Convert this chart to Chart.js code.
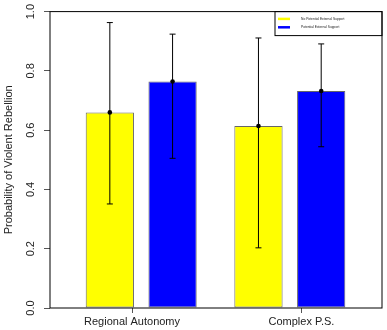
<!DOCTYPE html>
<html>
<head>
<meta charset="utf-8">
<script src="https://cdn.jsdelivr.net/npm/chart.js@4.4.0/dist/chart.umd.min.js"></script>
<style>
  html, body { margin: 0; padding: 0; background: #fff; }
</style>
</head>
<body>
<canvas id="rebellionChart" width="387" height="330"></canvas>
<script>
const categories = ["Regional Autonomy", "Complex P.S."];
const seriesLabels = ["No Potential External Support", "Potential External Support"];
const noSupportMean = [0.66, 0.614];
const noSupportLower = [0.351, 0.203];
const noSupportUpper = [0.963, 0.911];
const supportMean = [0.764, 0.732];
const supportLower = [0.505, 0.544];
const supportUpper = [0.924, 0.891];
const yTickValues = [0, 0.2, 0.4, 0.6, 0.8, 1.0];

// layout in bar-width units (like R barplot)
const xRange = 6.88;
const firstGroupStart = 0.74;
const groupStep = 3.08;
const barStep = 1.3;
const categoryTickAt = [1.7, 5.21];

const FONT = "'Liberation Sans', Arial, sans-serif";

function barCenters(seriesIndex) {
  return categories.map((c, g) => firstGroupStart + g * groupStep + seriesIndex * barStep + 0.5);
}

function toPoints(seriesIndex, values) {
  const xs = barCenters(seriesIndex);
  return values.map((v, i) => ({ x: xs[i], y: v }));
}

const errorRanges = [
  { lower: noSupportLower, upper: noSupportUpper, mean: noSupportMean },
  { lower: supportLower, upper: supportUpper, mean: supportMean },
];

// error bars, points, frame and legend box
const extrasPlugin = {
  id: "extras",
  afterDatasetsDraw(chart) {
    const ctx = chart.ctx;
    const y = chart.scales.y;
    ctx.save();
    ctx.strokeStyle = "#000";
    ctx.fillStyle = "#000";
    ctx.lineWidth = 1;
    errorRanges.forEach((r, i) => {
      const meta = chart.getDatasetMeta(i);
      meta.data.forEach((bar, j) => {
        const x = bar.x;
        const yLo = y.getPixelForValue(r.lower[j]);
        const yHi = y.getPixelForValue(r.upper[j]);
        ctx.beginPath();
        ctx.moveTo(x, yLo);
        ctx.lineTo(x, yHi);
        ctx.moveTo(x - 3, yLo);
        ctx.lineTo(x + 3, yLo);
        ctx.moveTo(x - 3, yHi);
        ctx.lineTo(x + 3, yHi);
        ctx.stroke();
        ctx.beginPath();
        ctx.arc(x, y.getPixelForValue(r.mean[j]), 2.3, 0, Math.PI * 2);
        ctx.fill();
      });
    });
    ctx.restore();
  },
  afterDraw(chart) {
    const ctx = chart.ctx;
    const area = chart.chartArea;
    ctx.save();
    ctx.strokeStyle = "#000";
    ctx.lineWidth = 1;
    ctx.strokeRect(area.left, area.top, area.right - area.left, area.bottom - area.top);

    // legend
    const w = 107, h = 24;
    const left = area.right - w, top = area.top;
    ctx.strokeRect(left, top, w, h);
    chart.data.datasets.forEach((ds, i) => {
      const ly = top + 7.3 + i * 8.4;
      ctx.strokeStyle = ds.backgroundColor;
      ctx.lineWidth = 2.5;
      ctx.beginPath();
      ctx.moveTo(left + 3, ly);
      ctx.lineTo(left + 15, ly);
      ctx.stroke();
      ctx.fillStyle = "#222";
      ctx.font = "3.3px " + FONT;
      ctx.textBaseline = "middle";
      ctx.fillText(ds.label, left + 26, ly);
    });
    ctx.restore();
  },
};

const chart = new Chart(document.getElementById("rebellionChart"), {
  type: "bar",
  data: {
    datasets: [
      {
        label: seriesLabels[0],
        data: toPoints(0, noSupportMean),
        backgroundColor: "#ffff00",
      },
      {
        label: seriesLabels[1],
        data: toPoints(1, supportMean),
        backgroundColor: "#0000ff",
      },
    ],
  },
  options: {
    responsive: false,
    animation: false,
    devicePixelRatio: 1,
    layout: { padding: { top: 11, right: 5, left: 0, bottom: 0 } },
    datasets: {
      bar: {
        grouped: false,
        categoryPercentage: 1,
        barPercentage: 1 / barStep,
        borderColor: "rgba(0,0,0,0.6)",
        borderWidth: 1,
        borderSkipped: false,
      },
    },
    plugins: {
      legend: { display: false },
      tooltip: { enabled: false },
    },
    scales: {
      x: {
        type: "linear",
        min: 0,
        max: xRange,
        offset: false,
        afterBuildTicks: (scale) => {
          scale.ticks = categoryTickAt.map((v) => ({ value: v }));
        },
        afterFit: (scale) => {
          scale.height = 22;
        },
        ticks: {
          autoSkip: false,
          maxRotation: 0,
          padding: 2,
          color: "#222",
          font: { family: FONT, size: 11 },
          callback: (v, i) => categories[i],
        },
        grid: {
          offset: false,
          drawOnChartArea: false,
          drawTicks: true,
          tickLength: 5,
          color: "#555",
        },
        border: { display: false },
      },
      y: {
        min: 0,
        max: 1,
        afterBuildTicks: (scale) => {
          scale.ticks = yTickValues.map((v) => ({ value: v }));
        },
        afterFit: (scale) => {
          scale.width = 50;
        },
        ticks: {
          minRotation: 90,
          maxRotation: 90,
          crossAlign: "center",
          padding: 5,
          color: "#222",
          font: { family: FONT, size: 11 },
          callback: (v) => Number(v).toFixed(1),
        },
        grid: {
          drawOnChartArea: false,
          drawTicks: true,
          tickLength: 6,
          color: "#555",
        },
        border: { display: false },
        title: {
          display: true,
          text: "Probability of Violent Rebellion",
          color: "#222",
          font: { family: FONT, size: 11 },
          padding: { top: 2, bottom: 0 },
        },
      },
    },
  },
  plugins: [extrasPlugin],
});
</script>
</body>
</html>
